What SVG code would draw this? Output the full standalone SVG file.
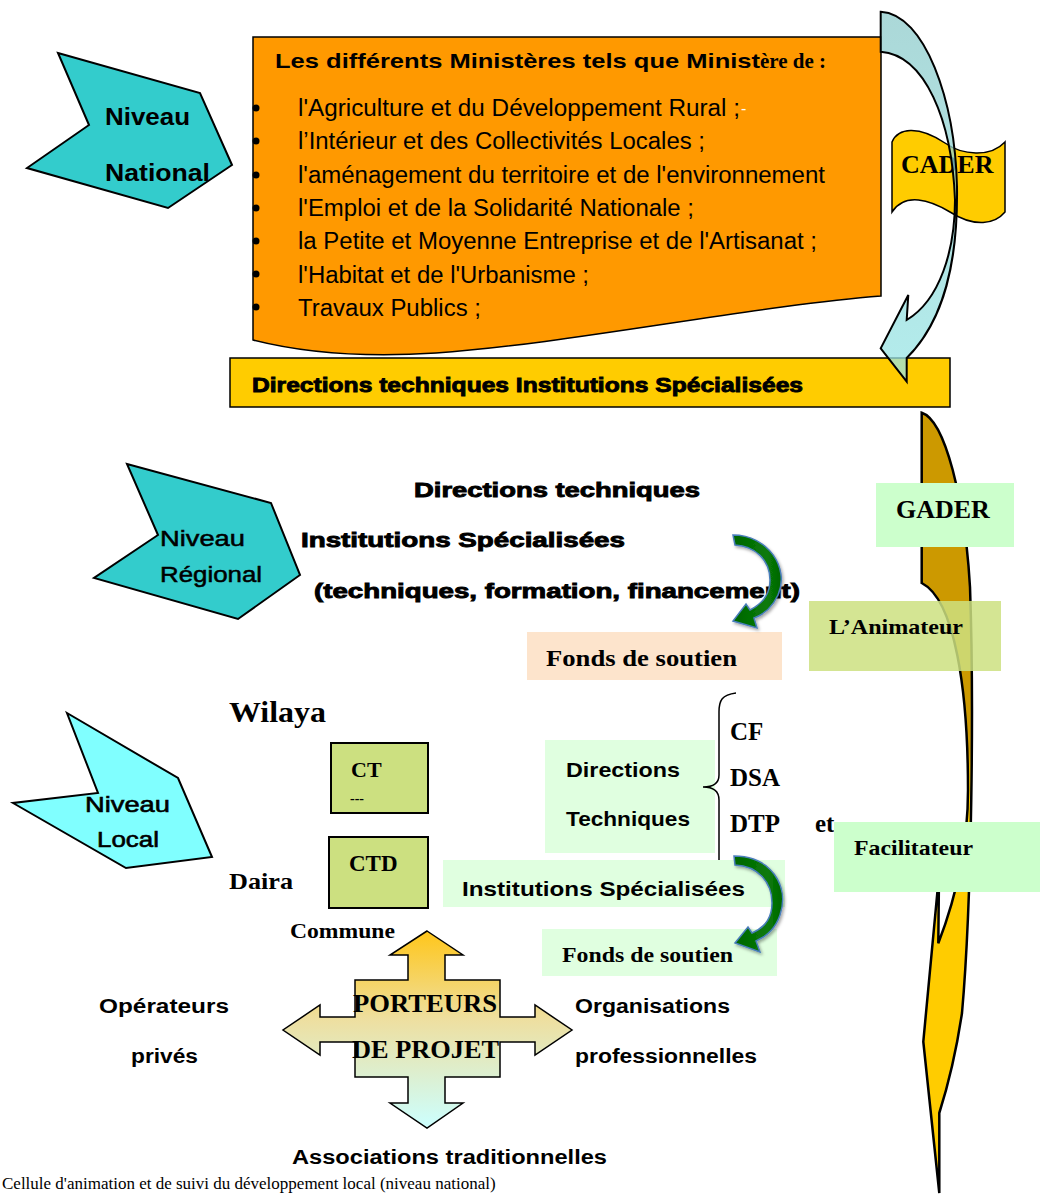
<svg xmlns="http://www.w3.org/2000/svg" width="1040" height="1194" viewBox="0 0 1040 1194">
<defs>
<style>
.sb{font-family:"Liberation Sans","DejaVu Sans",sans-serif;font-weight:bold;fill:#000}
.sr{font-family:"Liberation Sans","DejaVu Sans",sans-serif;fill:#000}
.bk{font-family:"Liberation Sans","DejaVu Sans",sans-serif;font-weight:bold;fill:#000;stroke:#000;stroke-width:0.9}
.tb{font-family:"Liberation Serif","Times New Roman",serif;font-weight:bold;fill:#000}
.tr{font-family:"Liberation Serif","Times New Roman",serif;fill:#000}
.ar{font-family:"Liberation Sans",Arial,sans-serif;fill:#000}
.lvl{stroke:#000;stroke-width:2}
.soft{fill:#E0FFE0}
.greenbox{fill:#CCE080;stroke:#000;stroke-width:2}
.garrow{fill:url(#gGreen);stroke:#4A7EBB;stroke-width:1.5;filter:url(#sh)}
</style>
<linearGradient id="gCyan" x1="0" y1="0" x2="0" y2="1">
<stop offset="0" stop-color="#8FCBCB"/>
<stop offset="1" stop-color="#9AE6E6"/>
</linearGradient>
<linearGradient id="gGold" gradientUnits="userSpaceOnUse" x1="0" y1="413" x2="0" y2="1193">
<stop offset="0" stop-color="#CC9900"/>
<stop offset="0.43" stop-color="#CC9900"/>
<stop offset="0.47" stop-color="#FFCC00"/>
<stop offset="1" stop-color="#FFCC00"/>
</linearGradient>
<linearGradient id="gCross" x1="0" y1="0" x2="0" y2="1">
<stop offset="0" stop-color="#FFC61A"/>
<stop offset="0.45" stop-color="#EEDFA0"/>
<stop offset="1" stop-color="#CCFFFF"/>
</linearGradient>
<linearGradient id="gGreen" x1="0" y1="0" x2="1" y2="0">
<stop offset="0" stop-color="#006600"/>
<stop offset="0.7" stop-color="#0A7A0A"/>
<stop offset="1" stop-color="#006600"/>
</linearGradient>
<filter id="sh" x="-30%" y="-30%" width="160%" height="160%">
<feDropShadow dx="1.5" dy="2" stdDeviation="1.5" flood-color="#000" flood-opacity="0.35"/>
</filter>
</defs>
<rect width="1040" height="1194" fill="#fff"/>

<g id="niveau-national">
<polygon class="lvl" fill="#33CCCC" points="58,53 200,93 232,165 168,208 27,168 89,125"/>
<text class="sb" font-size="24" x="105" y="125" textLength="85" lengthAdjust="spacingAndGlyphs">Niveau</text>
<text class="sb" font-size="24" x="105" y="181" textLength="105" lengthAdjust="spacingAndGlyphs">National</text>
</g>

<g id="ministeres">
<path fill="#FF9900" stroke="#000" stroke-width="1.5" d="M253,37 H881 V296 C760,305 560,345 436,353 C360,358 300,352 253,340 Z"/>
<text class="sb" font-size="21" x="275" y="68" textLength="485" lengthAdjust="spacingAndGlyphs">Les différents Ministères tels que Minist</text>
<text class="tb" font-size="21" x="760" y="68">ère de :</text>
<g fill="#000">
<circle cx="256" cy="108" r="3.5"/><circle cx="256" cy="141" r="3.5"/><circle cx="256" cy="175" r="3.5"/><circle cx="256" cy="208" r="3.5"/><circle cx="256" cy="241" r="3.5"/><circle cx="256" cy="274" r="3.5"/><circle cx="256" cy="307" r="3.5"/>
</g>
<text class="ar" font-size="23" x="298" y="116" textLength="442" lengthAdjust="spacingAndGlyphs">l'Agriculture et du  Développement Rural ;</text>
<text class="ar" font-size="16" x="741" y="114" style="fill:#fff">-</text>
<text class="ar" font-size="23" x="298" y="149" textLength="407" lengthAdjust="spacingAndGlyphs">l’Intérieur et des Collectivités Locales ;</text>
<text class="ar" font-size="23" x="298" y="183" textLength="527" lengthAdjust="spacingAndGlyphs">l'aménagement du territoire et de l'environnement</text>
<text class="ar" font-size="23" x="298" y="216" textLength="396" lengthAdjust="spacingAndGlyphs">l'Emploi et de la Solidarité Nationale ;</text>
<text class="ar" font-size="23" x="298" y="249" textLength="519" lengthAdjust="spacingAndGlyphs">la Petite et Moyenne Entreprise et de l'Artisanat ;</text>
<text class="ar" font-size="23" x="298" y="283" textLength="291" lengthAdjust="spacingAndGlyphs">l'Habitat et de l'Urbanisme ;</text>
<text class="ar" font-size="23" x="298" y="316" textLength="183" lengthAdjust="spacingAndGlyphs">Travaux Publics ;</text>
</g>

<g id="directions-nationales">
<rect x="230" y="358" width="720" height="49" fill="#FFCC00" stroke="#000" stroke-width="1.5"/>
<text class="bk" font-size="21" x="252" y="392" textLength="551" lengthAdjust="spacingAndGlyphs">Directions techniques Institutions Spécialisées</text>
</g>

<g id="cader">
<path fill="#FFCC00" stroke="#000" stroke-width="1.5" d="M892,142 C898,128 918,125 945,143 C962,155 990,158 1005,142 L1005,212 C995,224 975,228 950,212 C930,200 905,192 892,212 Z"/>
<text class="tb" font-size="26" x="901" y="173">CADER</text>
</g>

<g id="niveau-regional">
<polygon class="lvl" fill="#33CCCC" points="127,464 271,503 300,575 238,619 94,578 158,535"/>
<text class="sb" font-size="22" x="160" y="546" textLength="85" lengthAdjust="spacingAndGlyphs" style="font-weight:normal;stroke:#000;stroke-width:0.5">Niveau</text>
<text class="sb" font-size="22" x="160" y="582" textLength="102" lengthAdjust="spacingAndGlyphs" style="font-weight:normal;stroke:#000;stroke-width:0.5">Régional</text>
</g>
<g id="directions-regionales">
<text class="bk" font-size="21" x="414" y="497" textLength="286" lengthAdjust="spacingAndGlyphs">Directions techniques</text>
<text class="bk" font-size="21" x="301" y="547" textLength="324" lengthAdjust="spacingAndGlyphs">Institutions Spécialisées</text>
<text class="bk" font-size="21" x="314" y="598" textLength="486" lengthAdjust="spacingAndGlyphs">(techniques, formation, financement)</text>
</g>
<g id="fonds-regional">
<rect x="527" y="632" width="255" height="48" fill="#FDE4CC"/>
<text class="tb" font-size="24" x="546" y="666" textLength="191" lengthAdjust="spacingAndGlyphs">Fonds de soutien</text>
</g>

<g id="niveau-local">
<polygon class="lvl" fill="#80FFFF" points="67,713 178,778 212,857 126,868 13,803 98,793"/>
<text class="sb" font-size="22" x="85" y="812" textLength="85" lengthAdjust="spacingAndGlyphs" style="font-weight:normal;stroke:#000;stroke-width:0.6">Niveau</text>
<text class="sb" font-size="22" x="97" y="847" textLength="62" lengthAdjust="spacingAndGlyphs" style="font-weight:normal;stroke:#000;stroke-width:0.6">Local</text>
</g>
<g id="wilaya">
<text class="tb" font-size="29" x="229" y="722" textLength="97" lengthAdjust="spacingAndGlyphs">Wilaya</text>
</g>
<g id="ct">
<rect class="greenbox" x="331" y="743" width="97" height="70"/>
<text class="tb" font-size="22" x="351" y="777">CT</text>
<text class="tb" font-size="14" x="350" y="803">---</text>
</g>
<g id="ctd">
<rect class="greenbox" x="329" y="837" width="99" height="71"/>
<text class="tb" font-size="23" x="349" y="871">CTD</text>
</g>
<g id="daira"><text class="tb" font-size="23" x="229" y="889" textLength="64" lengthAdjust="spacingAndGlyphs">Daira</text></g>
<g id="commune"><text class="tb" font-size="21" x="290" y="938" textLength="105" lengthAdjust="spacingAndGlyphs">Commune</text></g>

<g id="directions-techniques-locales">
<rect class="soft" x="545" y="740" width="170" height="113"/>
<text class="sb" font-size="21" x="566" y="777" textLength="114" lengthAdjust="spacingAndGlyphs">Directions</text>
<text class="sb" font-size="21" x="566" y="826" textLength="124" lengthAdjust="spacingAndGlyphs">Techniques</text>
</g>
<g id="cf-dsa-dtp">
<path d="M736,693 C722,695 719,700 719,712 L719,775 C719,784 712,787 703,787 C712,787 719,790 719,800 L719,862 C719,874 725,878 738,878" fill="none" stroke="#000" stroke-width="1.5"/>
<text class="tb" font-size="25" x="730" y="740">CF</text>
<text class="tb" font-size="25" x="730" y="786">DSA</text>
<text class="tb" font-size="25" x="730" y="832">DTP</text>
<text class="tb" font-size="25" x="815" y="832">et</text>
</g>
<g id="institutions-locales">
<rect class="soft" x="443" y="860" width="342" height="47"/>
<text class="sb" font-size="21" x="462" y="896" textLength="283" lengthAdjust="spacingAndGlyphs">Institutions Spécialisées</text>
</g>
<g id="fonds-local">
<rect class="soft" x="542" y="929" width="235" height="47"/>
<text class="tb" font-size="22" x="562" y="962" textLength="171" lengthAdjust="spacingAndGlyphs">Fonds de soutien</text>
</g>

<g id="porteurs">
<polygon fill="url(#gCross)" stroke="#000" stroke-width="1.5" points="427,931 463,955 445,955 445,980 500,980 500,1017 535,1017 535,1005 572,1030 535,1055 535,1042 500,1042 500,1077 445,1077 445,1103 463,1103 427,1128 390,1103 408,1103 408,1077 355,1077 355,1042 320,1042 320,1055 283,1030 320,1005 320,1017 355,1017 355,980 408,980 408,955 390,955"/>
<text class="tb" font-size="26" x="353" y="1012" textLength="144" lengthAdjust="spacingAndGlyphs">PORTEURS</text>
<text class="tb" font-size="26" x="352" y="1058" textLength="147" lengthAdjust="spacingAndGlyphs">DE PROJET</text>
</g>
<g id="operateurs">
<text class="sb" font-size="20" x="99" y="1013" textLength="130" lengthAdjust="spacingAndGlyphs">Opérateurs</text>
<text class="sb" font-size="20" x="131" y="1063" textLength="67" lengthAdjust="spacingAndGlyphs">privés</text>
</g>
<g id="organisations">
<text class="sb" font-size="20" x="575" y="1013" textLength="155" lengthAdjust="spacingAndGlyphs">Organisations</text>
<text class="sb" font-size="20" x="575" y="1063" textLength="182" lengthAdjust="spacingAndGlyphs">professionnelles</text>
</g>
<g id="associations">
<text class="sb" font-size="20" x="292" y="1164" textLength="315" lengthAdjust="spacingAndGlyphs">Associations traditionnelles</text>
</g>

<g id="connectors">
<path fill="url(#gCyan)" fill-opacity="0.75" stroke="#000" stroke-width="2" d="M880.7,11.7 C925,14 955,100 957,187 C958,260 945,320 906.7,358 L906.7,381.7 L880.7,348.3 L908.3,295 L906.7,320 C940,300 955,250 955,200 C952,120 925,55 880.7,51.7 Z"/>
<path fill="url(#gGold)" stroke="#000" stroke-width="2.5" d="M921.7,412.7 C945,420 965,500 970,587 C974,700 972,900 962,1013 C955,1060 945,1095 939.3,1113 L939.3,1193 L923.3,1041.7 L939,875 L938.3,943.3 C955,900 968,850 968,790 C968,690 955,600 921.7,583 Z"/>
<path class="garrow" d="M733,535 C768,535 790,568 778,595 C772,608 762,615 754,618 L757,628 L733,621 L746,604 L750,610 C762,604 770,595 770,580 C770,560 755,546 735,545 Z"/>
<path class="garrow" d="M734,856 C770,856 790,885 780,915 C775,930 765,937 756,941 L760,952 L735,943 L748,927 L752,933 C764,928 772,918 772,903 C772,882 758,866 735,865 Z"/>
</g>

<g id="gader">
<rect x="876" y="483" width="138" height="64" fill="#CCFFCC"/>
<text class="tb" font-size="26" x="896" y="518">GADER</text>
</g>
<g id="animateur">
<rect x="809" y="601" width="192" height="70" fill="#CCE080" fill-opacity="0.85"/>
<text class="tb" font-size="22" x="829" y="634" textLength="134" lengthAdjust="spacingAndGlyphs">L’Animateur</text>
</g>
<g id="facilitateur">
<rect x="834" y="822" width="206" height="70" fill="#CCFFCC"/>
<text class="tb" font-size="21" x="854" y="855" textLength="119" lengthAdjust="spacingAndGlyphs">Facilitateur</text>
</g>

<g id="legende">
<text class="tr" font-size="17" x="2" y="1189">Cellule d'animation et de suivi du développement local (niveau national)</text>
</g>
</svg>
